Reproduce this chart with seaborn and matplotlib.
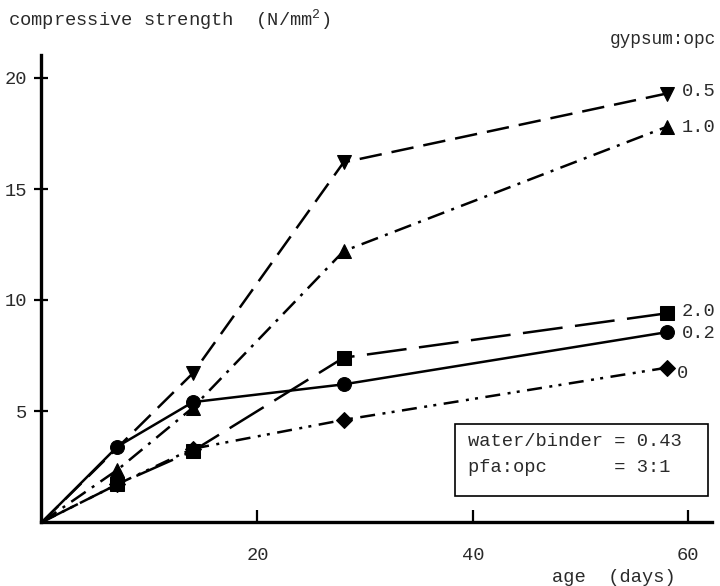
import matplotlib
matplotlib.use("Agg")
import matplotlib.pyplot as plt
from matplotlib.patches import Rectangle
import seaborn as sns
import pandas as pd

# ---- data ----
age_days = [0, 7, 14, 28, 58]
s_0_5 = [0, None, 6.7, 16.2, 19.3]
s_1_0 = [0, 2.35, 5.15, 12.2, 17.8]
s_2_0 = [0, 1.7, 3.2, 7.4, 9.4]
s_0_2 = [0, 3.4, 5.4, 6.2, 8.55]
s_0 = [0, 1.7, 3.3, 4.6, 6.95]
series_labels = ["0.5", "1.0", "2.0", "0.2", "0"]
x_ticks = [20, 40, 60]
y_ticks = [5, 10, 15, 20]

sns.set_style("white")
FONT = ["Liberation Mono", "DejaVu Sans Mono"]
plt.rcParams["font.family"] = FONT
plt.rcParams["mathtext.default"] = "regular"

W, H = 720, 586
FS = 13.5
TC = "#2a2a2a"
fig = plt.figure(figsize=(7.2, 5.86), dpi=100)

def fx(px):
    return px / W

def fy(py):
    return 1 - py / H

x0, x1 = 41, 712
y0, y1 = 522, 55
ax = fig.add_axes([fx(x0), fy(y0), fx(x1) - fx(x0), fy(y1) - fy(y0)])

xmax = (x1 - 42) / 10.77
ymax = (y0 - y1) / 22.2
ax.set_xlim(-0.1, xmax)
ax.set_ylim(0, ymax)

styles = {
    "0.5": dict(marker="v", dashes=(9, 4)),
    "1.0": dict(marker="^", dashes=(7, 3, 1.2, 3)),
    "2.0": dict(marker="s", dashes=(16, 5)),
    "0.2": dict(marker="o", dashes=None),
    "0": dict(marker="D", dashes=(6, 3, 1.2, 2.5, 1.2, 3)),
}
values = [s_0_5, s_1_0, s_2_0, s_0_2, s_0]

for lab, vals in zip(series_labels, values):
    df = pd.DataFrame({"age": age_days, "strength": vals}).dropna()
    st = styles[lab]
    n = len(df)
    ms = 10 if st["marker"] != "D" else 8.5
    sns.lineplot(data=df, x="age", y="strength", ax=ax, color="black",
                 linewidth=1.8, marker=st["marker"], markersize=ms,
                 markeredgecolor="black", markerfacecolor="black",
                 markevery=list(range(1, n)), legend=False)
    l = ax.lines[-1]
    if st["dashes"] is not None:
        l.set_dashes(st["dashes"])
    l.set_clip_on(False)

for sp in ["top", "right"]:
    ax.spines[sp].set_visible(False)
for sp in ["left", "bottom"]:
    ax.spines[sp].set_linewidth(2.4)
    ax.spines[sp].set_color("black")

ax.set_xticks(x_ticks)
ax.set_yticks(y_ticks)
ax.set_xticklabels([str(t) for t in x_ticks])
ax.set_yticklabels([str(t) for t in y_ticks])
ax.tick_params(axis="x", bottom=True, direction="in", length=9, width=1.6,
               pad=18, labelsize=FS, colors="black", labelcolor=TC)
ax.tick_params(axis="y", left=True, direction="inout", length=10, width=1.6,
               pad=5, labelsize=FS, colors="black", labelcolor=TC)
ax.set_xlabel("")
ax.set_ylabel("")
ax.set_facecolor("white")

# titles / axis labels
fig.text(fx(8), fy(20), r"compressive strength  (N/mm$^{2}$)", fontsize=FS,
         ha="left", va="center", color=TC)
fig.text(fx(614), fy(577), "age  (days)", fontsize=FS, ha="center",
         va="center", color=TC)

# series labels at right
fig.text(fx(716), fy(40), "gypsum:opc", fontsize=12.8, ha="right",
         va="center", color=TC)
label_pos = {"0.5": (682, 92), "1.0": (682, 127), "2.0": (682, 311),
             "0.2": (682, 333), "0": (677, 373)}
for lab in series_labels:
    px, py = label_pos[lab]
    fig.text(fx(px), fy(py), lab, fontsize=FS, ha="left", va="center",
             color=TC)

# parameter box
fig.patches.append(Rectangle((fx(455), fy(496)), fx(708) - fx(455),
                             fy(424) - fy(496), transform=fig.transFigure,
                             fill=False, edgecolor="black", linewidth=1.2))
fig.text(fx(468), fy(441), "water/binder = 0.43", fontsize=FS, ha="left",
         va="center", color=TC)
fig.text(fx(468), fy(467), "pfa:opc      = 3:1", fontsize=FS, ha="left",
         va="center", color=TC)

fig.savefig("out.png", dpi=100, facecolor="white")
